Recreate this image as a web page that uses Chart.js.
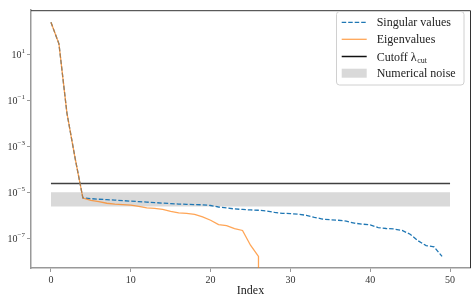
<!DOCTYPE html>
<html><head><meta charset="utf-8">
<script src="https://cdn.jsdelivr.net/npm/chart.js@4.4.1/dist/chart.umd.min.js"></script>
<style>html,body{margin:0;padding:0;background:#fff}#wrap{width:476px;height:304px;position:relative}</style>
</head><body><div id="wrap"><canvas id="c" width="476" height="304"></canvas></div>
<script>
// ---- data ----
const indexValues = [0,1,2,3,4,5,6,7,8,9,10,11,12,13,14,15,16,17,18,19,20,21,22,23,24,25,26,27,28,29,30,31,32,33,34,35,36,37,38,39,40,41,42,43,44,45,46,47,48,49];
const singularValues = [245,28.5,0.028,3.4e-4,5.7e-6,5.3e-6,5.0e-6,4.8e-6,4.57e-6,4.35e-6,
  4.14e-6,3.94e-6,3.75e-6,3.57e-6,3.40e-6,3.24e-6,3.09e-6,3.0e-6,2.94e-6,2.85e-6,
  2.67e-6,2.30e-6,2.09e-6,1.89e-6,1.80e-6,1.71e-6,1.66e-6,1.55e-6,1.34e-6,1.22e-6,
  1.19e-6,1.12e-6,1.0e-6,8.2e-7,6.9e-7,6.4e-7,6.1e-7,5.6e-7,4.57e-7,4.14e-7,
  3.83e-7,2.94e-7,2.67e-7,2.54e-7,2.19e-7,1.5e-7,7.8e-8,4.8e-8,4.27e-8,1.63e-8];
// eigenvalues: index 27 is non-positive (falls off the log axis)
const eigenValues = [245,28.5,0.028,3.4e-4,5.6e-6,4.5e-6,3.9e-6,3.35e-6,3.05e-6,2.94e-6,
  2.8e-6,2.42e-6,2.09e-6,1.99e-6,1.80e-6,1.48e-6,1.28e-6,1.22e-6,1.10e-6,8.6e-7,
  6.1e-7,3.94e-7,3.57e-7,2.67e-7,2.19e-7,5.0e-8,1.63e-8,-1e-8];
const cutoffValue = 2.4e-5;
const noiseUpper = 1e-5;
const noiseLower = 2.4e-6;
const spanStart = 0, spanEnd = 50;
const xTicks = [0,10,20,30,40,50];
const yTicks = [1e1,1e-1,1e-3,1e-5,1e-7];
const yTickBase = '10';
const yTickExponents = ['1','\u22121','\u22123','\u22125','\u22127'];
const legendLabels = ['Singular values','Eigenvalues','Cutoff \u03bb','Numerical noise'];
const cutoffSub = 'cut';

const FONT = '"Liberation Serif", "DejaVu Serif", serif';
const clipLog = v => (v > 0 ? v : 1e-300);

const decor = {
  id: 'decor',
  afterDraw(chart) {
    const {ctx, chartArea: a, scales: {y}} = chart;
    ctx.save();
    // top / right spines
    ctx.strokeStyle = '#333'; ctx.lineWidth = 1;
    ctx.beginPath();
    ctx.moveTo(a.left, a.top + 0.5); ctx.lineTo(a.right + 0.5, a.top + 0.5); ctx.lineTo(a.right + 0.5, a.bottom);
    ctx.stroke();
    // y tick labels 10^n
    ctx.fillStyle = '#333'; ctx.textAlign = 'left'; ctx.textBaseline = 'alphabetic';
    yTicks.forEach((v, i) => {
      const py = y.getPixelForValue(v);
      const exp = yTickExponents[i];
      ctx.font = '7px ' + FONT; const ew = ctx.measureText(exp).width;
      ctx.font = '10px ' + FONT; const bw = ctx.measureText(yTickBase).width;
      const right = a.left - 6;
      ctx.fillText(yTickBase, right - ew - bw, py + 3.3);
      ctx.font = '7px ' + FONT;
      ctx.fillText(exp, right - ew, py - 1);
    });
    // legend
    const lx = 336.5, ly = 11.5, lw = 127.5, lh = 73.5, r = 3;
    ctx.beginPath();
    ctx.roundRect(lx, ly, lw, lh, r);
    ctx.fillStyle = 'rgba(255,255,255,0.8)'; ctx.fill();
    ctx.strokeStyle = '#d0d0d0'; ctx.lineWidth = 1; ctx.stroke();
    const rows = [22.3, 39.3, 56.5, 73.2];
    const hx0 = 341.7, hx1 = 366.7, tx = 376.7;
    // handles
    ctx.lineWidth = 1.3;
    ctx.strokeStyle = '#1f77b4'; ctx.setLineDash([4.5, 2]);
    ctx.beginPath(); ctx.moveTo(hx0, rows[0]); ctx.lineTo(hx1, rows[0]); ctx.stroke();
    ctx.setLineDash([]);
    ctx.strokeStyle = 'rgba(255,127,14,0.7)';
    ctx.beginPath(); ctx.moveTo(hx0, rows[1]); ctx.lineTo(hx1, rows[1]); ctx.stroke();
    ctx.strokeStyle = '#111'; ctx.lineWidth = 1.5;
    ctx.beginPath(); ctx.moveTo(hx0, rows[2]); ctx.lineTo(hx1, rows[2]); ctx.stroke();
    ctx.fillStyle = '#d9d9d9';
    ctx.fillRect(hx0, rows[3] - 4.5, hx1 - hx0, 9);
    // texts
    ctx.fillStyle = '#222'; ctx.textBaseline = 'alphabetic';
    ctx.font = '12px ' + FONT;
    const base = 4;
    ctx.fillText(legendLabels[0], tx, rows[0] + base);
    ctx.fillText(legendLabels[1], tx, rows[1] + base);
    ctx.fillText(legendLabels[2], tx, rows[2] + base);
    const cw = ctx.measureText(legendLabels[2]).width;
    ctx.fillText(legendLabels[3], tx, rows[3] + base);
    ctx.font = '8px ' + FONT;
    ctx.fillText(cutoffSub, tx + cw + 0.5, rows[2] + base + 2);
    ctx.restore();
  }
};

new Chart(document.getElementById('c'), {
  type: 'line',
  data: {
    datasets: [
      {
        label: legendLabels[3],
        data: [{x: spanStart, y: noiseUpper}, {x: spanEnd, y: noiseUpper}],
        borderWidth: 0, borderColor: 'rgba(0,0,0,0)', pointRadius: 0,
        backgroundColor: '#d9d9d9', fill: {value: noiseLower}, order: 4
      },
      {
        label: 'Cutoff',
        data: [{x: spanStart, y: cutoffValue}, {x: spanEnd, y: cutoffValue}],
        borderColor: 'rgba(0,0,0,0.75)', borderWidth: 1.6, pointRadius: 0, fill: false, order: 3
      },
      {
        label: legendLabels[0],
        data: indexValues.map((i, k) => ({x: i, y: singularValues[k]})),
        borderColor: '#1f77b4', borderWidth: 1.3, borderDash: [4.5, 2],
        pointRadius: 0, fill: false, tension: 0, order: 2
      },
      {
        label: legendLabels[1],
        data: eigenValues.map((v, k) => ({x: indexValues[k], y: clipLog(v)})),
        borderColor: 'rgba(255,127,14,0.7)', borderWidth: 1.3,
        pointRadius: 0, fill: false, tension: 0, order: 1
      }
    ]
  },
  options: {
    responsive: false, animation: false, devicePixelRatio: 1,
    layout: {padding: {top: 5, right: 6, left: 0, bottom: 0}},
    plugins: {legend: {display: false}, tooltip: {enabled: false}},
    scales: {
      x: {
        type: 'linear', min: -2.5, max: 52.5,
        afterBuildTicks: s => { s.ticks = xTicks.map(v => ({value: v})); },
        afterFit: s => { s.height = 36; },
        grid: {drawOnChartArea: false, drawTicks: true, tickLength: 4, color: '#999', tickWidth: 1},
        border: {color: '#999', width: 1.5},
        ticks: {font: {family: FONT, size: 10}, color: '#333', padding: 2, maxRotation: 0},
        title: {display: true, text: 'Index', font: {family: FONT, size: 12}, color: '#222', padding: {top: 0, bottom: 6}}
      },
      y: {
        type: 'logarithmic', min: Math.pow(10, -8.29), max: Math.pow(10, 2.915),
        afterBuildTicks: s => { s.ticks = yTicks.map(v => ({value: v})); },
        afterFit: s => { s.width = 31; },
        grid: {drawOnChartArea: false, drawTicks: true, tickLength: 4, color: '#999', tickWidth: 1},
        border: {color: '#999', width: 1.5},
        ticks: {display: true, color: 'rgba(0,0,0,0)', callback: () => ''}
      }
    }
  },
  plugins: [decor]
});
</script></body></html>
